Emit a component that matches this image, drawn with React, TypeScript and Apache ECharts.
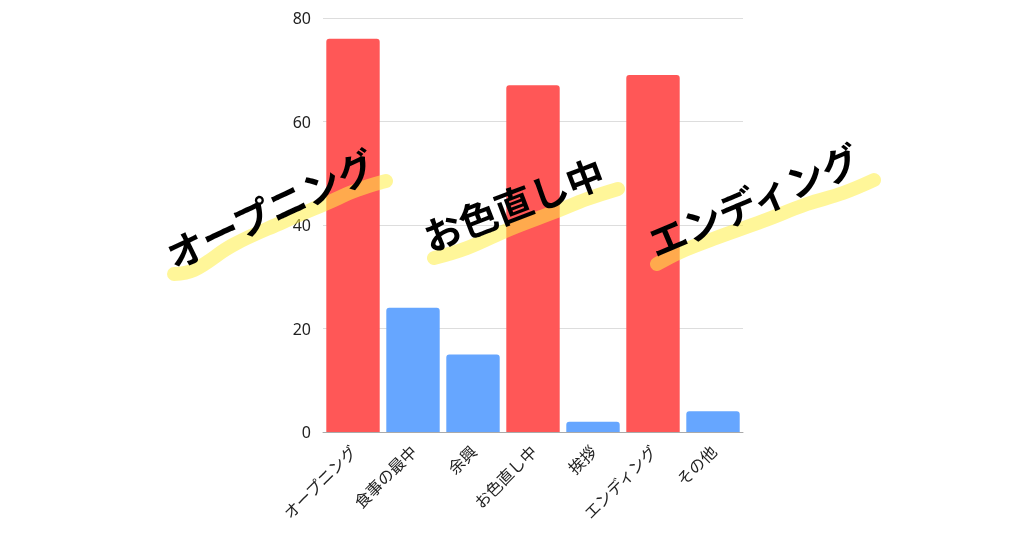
import React, { useEffect, useRef } from "react";
import * as echarts from "echarts";

const categories = ["オープニング", "食事の最中", "余興", "お色直し中", "挨拶", "エンディング", "その他"];
const values = [76, 24, 15, 67, 2, 69, 4];
const highlighted = [true, false, false, true, false, true, false];
const yTicks = { min: 0, max: 80, interval: 20 };

const RED = "#FF5757";
const BLUE = "#66A6FF";

const overlayLabels = [
  { text: "オープニング", x: 270, y: 208, angle: 25 },
  { text: "お色直し中", x: 513, y: 203, angle: 21 },
  { text: "エンディング", x: 753, y: 199, angle: 23 },
];

const strokes: number[][][] = [
  [[174, 274], [194, 270], [233, 245], [283, 222], [327, 203], [357, 190], [386, 181]],
  [[434, 258], [467, 248], [510, 229], [557, 211], [587, 199], [618, 189]],
  [[657, 264], [680, 252], [713, 239], [763, 221], [807, 204], [843, 193], [874, 180]],
];

export default function App() {
  const ref = useRef<HTMLDivElement>(null);
  useEffect(() => {
    if (!ref.current) return;
    const chart = echarts.init(ref.current, null, { renderer: "svg" });
    const graphics: any[] = [];
    strokes.forEach((pts) => {
      graphics.push({
        type: "polyline",
        shape: { points: pts, smooth: 0.4 },
        style: { stroke: "rgba(255, 238, 70, 0.55)", lineWidth: 14, lineCap: "round", lineJoin: "round", fill: null },
        z: 100,
      });
    });
    overlayLabels.forEach((l) => {
      graphics.push({
        type: "text",
        x: l.x,
        y: l.y,
        rotation: (l.angle * Math.PI) / 180,
        style: {
          text: l.text,
          fill: "#000",
          font: 'bold 38px "Noto Sans CJK JP"',
          align: "center",
          verticalAlign: "middle",
        },
        z: 101,
      });
    });
    chart.setOption({
      animation: false,
      grid: { left: 323, right: 281, top: 18, bottom: 106, containLabel: false },
      xAxis: {
        type: "category",
        data: categories,
        axisTick: { show: false },
        axisLine: { lineStyle: { color: "#aaa", width: 1 } },
        axisLabel: {
          rotate: 45,
          interval: 0,
          fontSize: 16,
          color: "#222",
          fontFamily: "Noto Sans CJK JP",
          margin: 16,
        },
      },
      yAxis: {
        type: "value",
        min: yTicks.min,
        max: yTicks.max,
        interval: yTicks.interval,
        axisLine: { show: false },
        axisTick: { show: false },
        splitLine: { lineStyle: { color: "#dddddd" } },
        axisLabel: { fontSize: 16, color: "#222", fontFamily: "Noto Sans", margin: 12 },
      },
      series: [
        {
          type: "bar",
          barCategoryGap: "11%",
          data: values.map((v, i) => ({
            value: v,
            itemStyle: { color: highlighted[i] ? RED : BLUE, borderRadius: [3, 3, 0, 0] },
          })),
        },
      ],
      graphic: graphics,
    });
    return () => chart.dispose();
  }, []);
  return <div ref={ref} style={{ position: "fixed", left: 0, top: 0, width: 1024, height: 538 }} />;
}
